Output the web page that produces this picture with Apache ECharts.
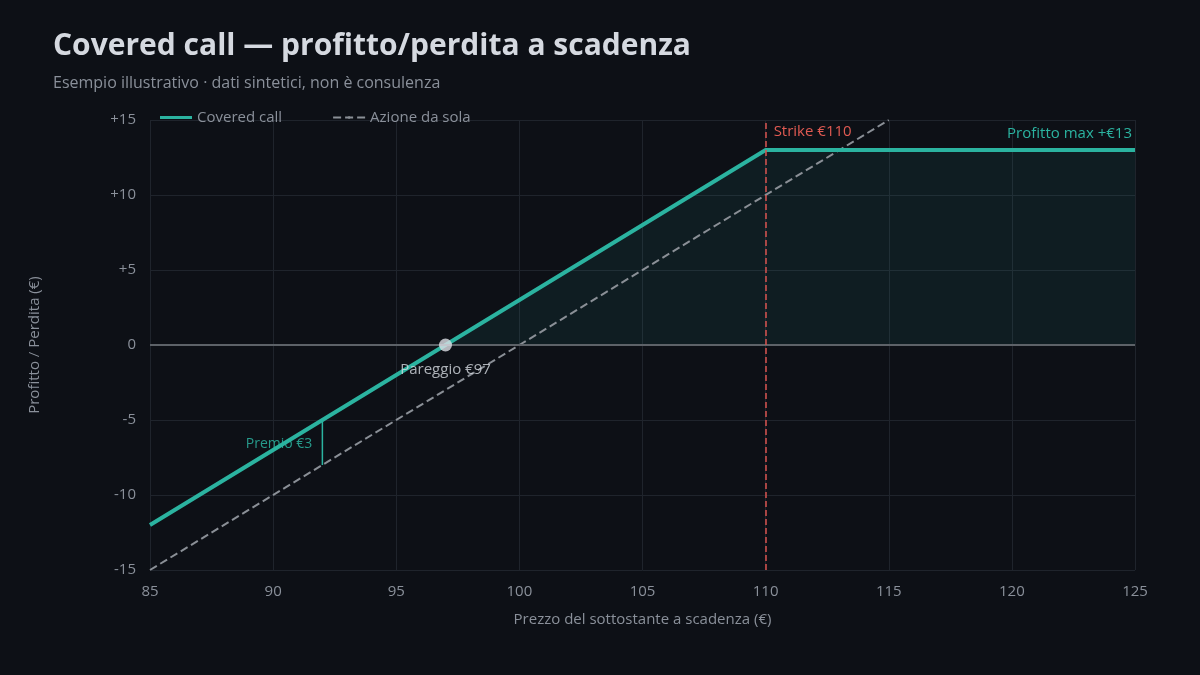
<!DOCTYPE html><html><head><meta charset="utf-8"><script src="https://cdn.jsdelivr.net/npm/echarts@6/dist/echarts.min.js"></script>
<style>body{margin:0;background:#0d1016}#c{width:1200px;height:675px}</style></head><body><div id="c"></div><script>
const coveredCall=[[85,-12],[110,13],[125,13]];
const stockOnly=[[85,-15],[115,15]];
const profitArea=[[97,0],[110,13],[125,13]];
const breakeven=[[97,0]];
const premium=[[92,-5],[92,-8]];
const premiumLabelPos=[[92,-6.6]];
const strike=110;
const teal='#2bb3a0',txt='#d5d9e0',muted='#8a909a';
const c=echarts.init(document.getElementById('c'));
c.setOption({backgroundColor:'#0d1016',textStyle:{fontFamily:'Open Sans'},
title:{text:'Covered call — profitto/perdita a scadenza',subtext:'Esempio illustrativo · dati sintetici, non è consulenza',left:48,top:26,itemGap:14,
textStyle:{color:txt,fontSize:30,fontWeight:'bold'},subtextStyle:{color:muted,fontSize:16}},
legend:{left:155,top:105,itemWidth:32,itemHeight:3,itemGap:50,textStyle:{color:muted,fontSize:15},
data:[{name:'Covered call',icon:'rect'},{name:'Azione da sola'}]},
grid:{left:150,right:65,top:120,bottom:105},
xAxis:{type:'value',min:85,max:125,interval:5,name:'Prezzo del sottostante a scadenza (€)',nameLocation:'middle',nameGap:42,nameTextStyle:{color:muted,fontSize:15},
axisLine:{show:false},axisTick:{show:false},axisLabel:{color:muted,fontSize:15,margin:14},splitLine:{lineStyle:{color:'#1f242c'}}},
yAxis:{type:'value',min:-15,max:15,interval:5,name:'Profitto / Perdita (€)',nameLocation:'middle',nameGap:108,nameTextStyle:{color:muted,fontSize:15},
axisLine:{show:false},axisTick:{show:false},axisLabel:{color:muted,fontSize:15,margin:14,formatter:v=>v>0?'+'+v:String(v)},splitLine:{lineStyle:{color:'#1f242c'}}},
series:[
{name:'area',type:'line',data:profitArea,symbol:'none',lineStyle:{width:0},areaStyle:{color:'rgba(43,179,160,0.12)'},silent:true,z:1},
{name:'Azione da sola',type:'line',data:stockOnly,symbol:'none',itemStyle:{color:'#8a8f96'},lineStyle:{type:'dashed',width:2,color:'#8a8f96'},z:2,
 markLine:{symbol:'none',silent:true,data:[{yAxis:0}],lineStyle:{color:'#5d6268',type:'solid',width:2},label:{show:false}}},
{name:'Covered call',type:'line',data:coveredCall,symbol:'none',itemStyle:{color:teal},lineStyle:{width:4,color:teal},z:3,
 markLine:{symbol:'none',silent:true,data:[{xAxis:strike}],lineStyle:{color:'#d9534f',type:'dashed',width:1.5},
  label:{show:true,position:'end',formatter:'Strike €110',color:'#e05a52',fontSize:15,align:'left',offset:[8,24]}},
 markPoint:{symbol:'circle',symbolSize:0,data:[{coord:[125,13]}],label:{show:true,formatter:'Profitto max +€13',color:teal,fontSize:15,position:'left',offset:[2,-16]}}},
{type:'line',data:premium,symbol:'none',lineStyle:{width:1.5,color:teal},z:3},
{type:'scatter',data:premiumLabelPos,symbolSize:0,label:{show:true,position:'left',formatter:'Premio €3',color:teal,fontSize:14,opacity:0.85,distance:10}},
{type:'scatter',data:breakeven,symbolSize:13,itemStyle:{color:'#dde0e6'},z:5,label:{show:true,position:'bottom',distance:11,formatter:'Pareggio €97',color:txt,fontSize:15}}
]});
</script></body></html>
